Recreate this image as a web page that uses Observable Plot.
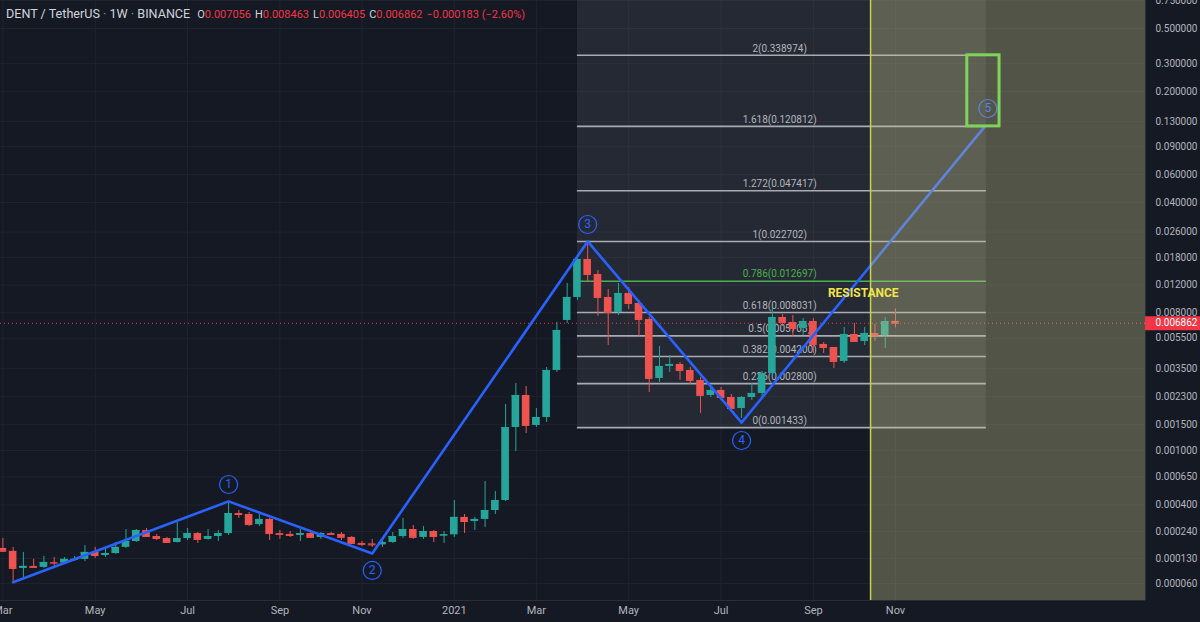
<!DOCTYPE html>
<html><head><meta charset="utf-8">
<script src="https://cdn.jsdelivr.net/npm/d3@7"></script>
<script src="https://cdn.jsdelivr.net/npm/@observablehq/plot@0.6"></script>
<style>
html,body{margin:0;padding:0;background:#151924;}
#wrap{position:relative;width:1200px;height:622px;overflow:hidden;}
#hdr{position:absolute;left:6px;top:5px;font:12.6px Roboto, sans-serif;color:#d1d4dc;white-space:nowrap;line-height:18px;}
#hdr .sep{color:#9598a1;}
#hdr .vals{font-size:11px;margin-left:7px;}
#hdr .k{color:#d1d4dc;}
#hdr .v{color:#f23645;margin-right:4px;}
</style></head><body>
<div id="wrap"><div id="chart"></div><div id="hdr"></div></div>
<script>
// ---------- data (weekly candles, DENT/USDT, Binance) ----------
const weekStart = "2020-03-02";
const opens = [
0.000166,0.000155,0.0000989,0.000105,0.000102,0.000117,0.000115,0.000124,0.000127,0.000151,
0.000140,0.000147,0.000170,0.000194,0.000245,0.000216,0.000207,0.000190,0.000207,0.000230,
0.000203,0.000216,0.000230,0.000341,0.000335,0.000276,0.000305,0.000230,0.000226,0.000221,
0.000230,0.000212,0.000230,0.000226,0.000212,0.000186,0.000184,0.000180,0.000190,0.000216,
0.000250,0.000212,0.000240,0.000218,0.000224,0.000317,0.000293,0.000305,0.000361,0.000433,
0.001436,0.002344,0.001482,0.001676,0.003412,0.007151,0.010021,0.017461,0.014028,0.010021,
0.008043,0.010626,0.009178,0.007257,0.003027,0.003621,0.003731,0.003412,0.002938,0.002344,
0.002528,0.002274,0.001924,0.002274,0.002416,0.003262,0.007473,0.006944,0.006357,0.007047,
0.005020,0.004802,0.003901,0.005819,0.005247,0.005905,0.005733,0.007056];
const highs = [
0.000207,0.000170,0.000151,0.000127,0.000137,0.000133,0.000133,0.000137,0.000178,0.000170,
0.000166,0.000190,0.000250,0.000250,0.000255,0.000226,0.000212,0.000287,0.000255,0.000235,
0.000250,0.000245,0.000425,0.000361,0.000348,0.000348,0.000311,0.000245,0.000240,0.000250,
0.000245,0.000235,0.000235,0.000235,0.000216,0.000194,0.000203,0.000198,0.000235,0.000311,
0.000271,0.000266,0.000245,0.000240,0.000433,0.000335,0.000317,0.000602,0.000507,0.002045,
0.002808,0.002684,0.001924,0.003568,0.006944,0.012300,0.017978,0.022702,0.014872,0.011266,
0.012300,0.011601,0.009591,0.007473,0.004873,0.004265,0.003844,0.003568,0.003073,0.002644,
0.002644,0.002380,0.002309,0.002808,0.003361,0.008655,0.007810,0.007696,0.007364,0.007364,
0.005170,0.004802,0.006451,0.006842,0.006451,0.006743,0.007473,0.008463];
const lows = [
0.000151,0.0000647,0.0000746,0.0000989,0.0000989,0.000102,0.000114,0.000120,0.000120,0.000130,
0.000133,0.000144,0.000166,0.000190,0.000212,0.000198,0.000186,0.000188,0.000198,0.000186,
0.000200,0.000194,0.000221,0.000311,0.000266,0.000266,0.000198,0.000203,0.000212,0.000194,
0.000207,0.000203,0.000221,0.000198,0.000182,0.000174,0.000170,0.000170,0.000186,0.000207,
0.000203,0.000203,0.000190,0.000186,0.000212,0.000230,0.000245,0.000260,0.000335,0.000425,
0.000985,0.001308,0.001436,0.001552,0.003311,0.006842,0.009591,0.012481,0.007584,0.004946,
0.007696,0.008405,0.005567,0.002453,0.002851,0.003311,0.002938,0.002766,0.001782,0.002274,
0.002173,0.001838,0.001651,0.002173,0.002274,0.003073,0.006547,0.005567,0.005733,0.004393,
0.004393,0.003515,0.003787,0.005220,0.004946,0.005247,0.004731,0.006405];
const closes = [
0.000155,0.0000989,0.000105,0.000102,0.000117,0.000115,0.000127,0.000127,0.000151,0.000140,
0.000147,0.000170,0.000194,0.000245,0.000216,0.000207,0.000190,0.000207,0.000230,0.000203,
0.000216,0.000230,0.000341,0.000335,0.000276,0.000305,0.000230,0.000226,0.000221,0.000230,
0.000212,0.000230,0.000226,0.000212,0.000186,0.000182,0.000180,0.000190,0.000216,0.000250,
0.000212,0.000240,0.000216,0.000224,0.000317,0.000293,0.000305,0.000361,0.000433,0.001436,
0.002344,0.001482,0.001676,0.003412,0.006172,0.010021,0.017461,0.014028,0.010021,0.008043,
0.010626,0.009178,0.007257,0.003027,0.003621,0.003731,0.003412,0.002938,0.002344,0.002528,
0.002274,0.001924,0.002274,0.002416,0.003262,0.007473,0.006944,0.006357,0.007047,0.005020,
0.004802,0.003901,0.005819,0.005247,0.005905,0.005733,0.007045,0.006862];

// Elliott wave pivots
const waveDates  = ["2020-03-09","2020-08-03","2020-11-09","2021-04-05","2021-07-19","2022-01-01"];
const wavePrices = [0.000063,0.000426,0.000147,0.022702,0.00155,0.120812];
const waveLabels = ["1","2","3","4","5"];
const waveLabelDates  = ["2020-08-03","2020-11-09","2021-04-05","2021-07-19","2022-01-03"];
const waveLabelPrices = [0.000572,0.0000932,0.02906,0.001172,0.15666];

// Fibonacci extension levels
const fibRatios = [0,0.236,0.382,0.5,0.618,0.786,1,1.272,1.618,2];
const fibPrices = [0.001433,0.0028,0.0042,0.005703,0.008031,0.012697,0.022702,0.047417,0.120812,0.338974];
const fibStart = "2021-03-29", fibEnd = "2022-01-02", fibLabelDate = "2021-08-14";

// Zones / annotations
const zoneStart = "2021-10-15";
const targetBoxDates = ["2021-12-20","2022-01-11"];
const targetBoxPrices = [0.120812,0.338974];
const resistanceDate = "2021-10-10", resistancePrice = 0.01062;

// Axes
const yTicks = [0.75,0.5,0.3,0.2,0.13,0.09,0.06,0.04,0.026,0.018,0.012,0.008,0.0055,0.0035,0.0023,0.0015,0.001,0.00065,0.0004,0.00024,0.00013,0.00006];
const xTickDates = ["2020-03-02","2020-05-04","2020-07-06","2020-09-07","2020-11-02","2021-01-04","2021-03-01","2021-05-03","2021-07-05","2021-09-06","2021-11-01"];

// ---------- build ----------
const DAY = 864e5;
const D = s => new Date(s + (s.length === 10 ? "T00:00Z" : ""));
const candles = opens.map((o,i) => ({
  date: new Date(Date.parse(weekStart + "T00:00Z") + i*7*DAY),
  open: o, high: highs[i], low: lows[i], close: closes[i]
}));
const UP = "#26a69a", DOWN = "#ef5350";
const col = d => d.close >= d.open ? UP : DOWN;
const HALF = 2.6*DAY;
const waves = waveDates.map((d,i)=>({date: D(d), price: wavePrices[i]}));
const wlabels = waveLabels.map((t,i)=>({t, date: D(waveLabelDates[i]), price: waveLabelPrices[i]}));
const fib = fibRatios.map((r,i)=>({r, price: fibPrices[i], text: `${r}(${fibPrices[i].toFixed(6)})`}));
const xDomain = [new Date("2020-02-29T09:00Z"), new Date("2022-04-20T14:00Z")];
const yDomain = [0.000025, 0.7505];
const last = candles[candles.length-1], prev = candles[candles.length-2];
const GRID = "#1f2330", FIBC = "#a8abb4", GREEN = "#4caf50", BLUE = "#2962ff";

const chart = Plot.plot({
  width: 1200, height: 622,
  marginLeft: 0, marginRight: 55, marginTop: 0, marginBottom: 22,
  style: {background: "#151924", color: "#b2b5be", fontFamily: "Roboto, sans-serif", fontSize: "10px"},
  x: {type: "utc", domain: xDomain, axis: null},
  y: {type: "symlog", constant: 0.0001, domain: yDomain, axis: null},
  marks: [
    Plot.ruleY(yTicks, {stroke: GRID}),
    Plot.ruleX(xTickDates.map(D), {stroke: GRID}),
    // fib background
    Plot.rect([{x1: D(fibStart), x2: D(fibEnd), y1: fibPrices[0], y2: yDomain[1]}],
      {x1: "x1", x2: "x2", y1: "y1", y2: "y2", fill: "#ffffff", fillOpacity: 0.07}),
    Plot.ruleY(fib, {y: "price", x1: () => D(fibStart), x2: () => D(fibEnd),
      stroke: d => d.r === 0.786 ? GREEN : FIBC, strokeWidth: 1.6}),
    Plot.text(fib, {x: () => D(fibLabelDate), y: "price", text: "text", dy: -7,
      fill: d => d.r === 0.786 ? GREEN : "#b2b5be", fontSize: 10}),
    // candles
    Plot.ruleX(candles, {x: "date", y1: "low", y2: "high", stroke: col, strokeWidth: 1}),
    Plot.rect(candles, {x1: d => new Date(+d.date - HALF), x2: d => new Date(+d.date + HALF),
      y1: "open", y2: "close", fill: col}),
    Plot.ruleY(candles, {x1: d => new Date(+d.date - HALF), x2: d => new Date(+d.date + HALF),
      y: "close", stroke: col, strokeWidth: 1}),
    // current price line
    Plot.ruleY([last.close], {stroke: "#f23645", strokeDasharray: "1,3", strokeWidth: 1}),
    // wave path
    Plot.line(waves, {x: "date", y: "price", stroke: BLUE, strokeWidth: 2.6}),
    Plot.dot(wlabels, {x: "date", y: "price", r: 9, stroke: BLUE, strokeWidth: 1.2, fill: "none"}),
    Plot.text(wlabels, {x: "date", y: "price", text: "t", fill: BLUE, fontSize: 12}),
    // future zone overlay
    Plot.rect([{x1: D(zoneStart), x2: xDomain[1], y1: yDomain[0], y2: yDomain[1]}],
      {x1: "x1", x2: "x2", y1: "y1", y2: "y2", fill: "rgb(200,200,140)", fillOpacity: 0.34}),
    Plot.ruleX([D(zoneStart)], {stroke: "#c9d24a", strokeWidth: 1.5}),
    // target box
    Plot.rect([{x1: D(targetBoxDates[0]), x2: D(targetBoxDates[1]), y1: targetBoxPrices[0], y2: targetBoxPrices[1]}],
      {x1: "x1", x2: "x2", y1: "y1", y2: "y2", fill: "none", stroke: "#7fd35b", strokeWidth: 3}),
    Plot.text(["RESISTANCE"], {x: () => D(resistanceDate), y: () => resistancePrice, text: d => d,
      fill: "#f2e44a", fontSize: 12, fontWeight: "bold"}),
    // borders
    Plot.ruleX([xDomain[1]], {stroke: "#2a2e39"}),
    Plot.ruleY([yDomain[0]], {stroke: "#2a2e39"}),
    // axes
    Plot.axisY(yTicks, {anchor: "right", tickSize: 0, tickPadding: 10, fontSize: 10,
      tickFormat: d3.format(".6f"), label: null}),
    Plot.axisX(xTickDates.map(D), {anchor: "bottom", tickSize: 0, tickPadding: 6, fontSize: 11,
      tickFormat: d => d.getUTCMonth() === 0 ? String(d.getUTCFullYear()) : d3.utcFormat("%b")(d), label: null}),
    // last price label
    Plot.ruleY([last.close], {x1: () => xDomain[1], x2: () => new Date(+xDomain[1] + 80*DAY), stroke: "#f23645", strokeWidth: 14}),
    Plot.text([last.close], {x: () => xDomain[1], y: d => d, text: d => d3.format(".6f")(d), dx: 10,
      textAnchor: "start", fill: "#ffffff", fontSize: 10})
  ]
});
document.getElementById("chart").appendChild(chart);

const f6 = d3.format(".6f");
const chg = last.close - prev.close, pct = chg / prev.close * 100;
document.getElementById("hdr").innerHTML =
  `DENT / TetherUS<span class="sep"> · </span>1W<span class="sep"> · </span>BINANCE<span class="vals">` +
  `<span class="k">O</span><span class="v">${f6(last.open)}</span>` +
  `<span class="k">H</span><span class="v">${f6(last.high)}</span>` +
  `<span class="k">L</span><span class="v">${f6(last.low)}</span>` +
  `<span class="k">C</span><span class="v">${f6(last.close)}</span>` +
  `<span class="v">${(chg<0?"\u2212":"+")+f6(Math.abs(chg))} (${(pct<0?"\u2212":"+")+Math.abs(pct).toFixed(2)}%)</span></span>`;
</script>
</body></html>
